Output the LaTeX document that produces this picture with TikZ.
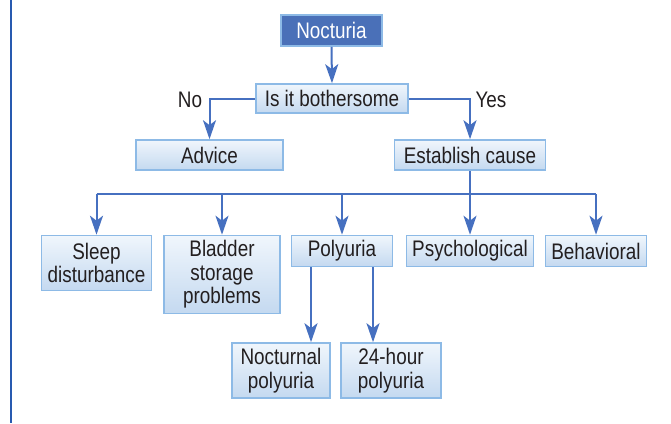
\documentclass[tikz,border=0pt]{standalone}
\usepackage{fontspec}
\setmainfont[FakeStretch=0.84]{Liberation Sans}
\usetikzlibrary{arrows.meta,shadings}
\definecolor{arrblue}{RGB}{70,112,192}
\definecolor{boxborder}{RGB}{141,186,230}
\definecolor{boxtop}{RGB}{240,246,252}
\definecolor{boxbot}{RGB}{196,217,240}
\definecolor{darkfill}{RGB}{74,112,184}
\definecolor{txt}{RGB}{35,31,32}
\definecolor{sideline}{RGB}{40,90,176}
\tikzset{
  box/.style={draw=boxborder, line width=1.6pt, top color=boxtop, bottom color=boxbot,
    text=txt, align=center, inner sep=0pt, font=\fontsize{22.5}{23.5}\selectfont},
  darkbox/.style={draw=boxborder, line width=1.6pt, fill=darkfill, text=white,
    align=center, inner sep=0pt, font=\fontsize{22.5}{23.5}\selectfont},
  arr/.style={draw=arrblue, line width=2pt, -{Stealth[length=19pt,width=13pt,inset=5pt]}},
  conn/.style={draw=arrblue, line width=2pt},
  lbl/.style={text=txt, font=\fontsize{22.5}{23.5}\selectfont, inner sep=0pt}
}
\begin{document}
\begin{tikzpicture}[x=1pt,y=-1pt]
\useasboundingbox (0,0) rectangle (671,423);
\fill[white] (0,0) rectangle (671,423);
\coordinate (sidetop) at (11,0);
\coordinate (sidebot) at (11,423);
\draw[sideline, line width=2pt] (sidetop) -- (sidebot);

\node[darkbox, minimum width=101pt, minimum height=31pt] (noct) at (331.5,30.5) {Nocturia};
\node[box, minimum width=152pt, minimum height=29pt] (both) at (332,98.5) {Is it bothersome};
\node[box, minimum width=147pt, minimum height=30pt] (advice) at (209.5,155) {Advice};
\node[box, minimum width=151pt, minimum height=30pt] (est) at (470,155) {Establish cause};
\node[lbl] (no) at (190,100) {No};
\node[lbl] (yes) at (491,100) {Yes};

\node[box, minimum width=110pt, minimum height=55pt] (sleep) at (96.5,263) {Sleep\\disturbance};
\node[box, minimum width=116pt, minimum height=78pt] (bladder) at (222,274.5) {Bladder\\storage\\problems};
\node[box, minimum width=101pt, minimum height=31pt] (poly) at (342,251) {Polyuria};
\node[box, minimum width=127pt, minimum height=31pt] (psych) at (470,251) {Psychological};
\node[box, minimum width=101pt, minimum height=31pt] (behav) at (596,251) {Behavioral};
\node[box, minimum width=98pt, minimum height=55pt] (noctp) at (281,370.5) {Nocturnal\\polyuria};
\node[box, minimum width=100pt, minimum height=55pt] (p24) at (391,370.5) {24-hour\\polyuria};

\draw[arr] (noct.south) -- (both.north);
\draw[arr] (both.west) -| (advice.north);
\draw[arr] (both.east) -| (est.north);

\coordinate (bus) at (470,194);
\draw[conn] (sleep.north |- bus) -- (behav.north |- bus);
\draw[arr] (est.south) -- (psych.north);
\draw[arr] (sleep.north |- bus) -- (sleep.north);
\draw[arr] (bladder.north |- bus) -- (bladder.north);
\draw[arr] (poly.north |- bus) -- (poly.north);
\draw[arr] (behav.north |- bus) -- (behav.north);

\draw[arr] ([xshift=-31pt]poly.south) -- ([xshift=-31pt]poly.south |- noctp.north);
\draw[arr] ([xshift=31pt]poly.south) -- ([xshift=31pt]poly.south |- p24.north);
\end{tikzpicture}
\end{document}
